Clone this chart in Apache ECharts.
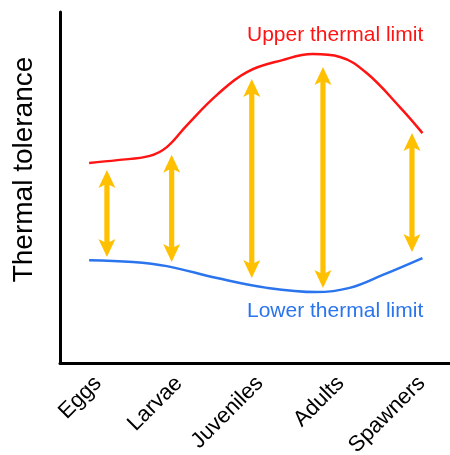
<!DOCTYPE html>
<html><head><meta charset="utf-8">
<script src="https://cdn.jsdelivr.net/npm/echarts@6/dist/echarts.min.js"></script>
<style>html,body{margin:0;padding:0;background:#fff}#c{width:450px;height:455px}</style>
</head><body><div id="c"></div>
<script>
const categories = ['Eggs', 'Larvae', 'Juveniles', 'Adults', 'Spawners'];
const categoryPos = [0, 1, 2, 3, 4];
// upper thermal limit curve [x (stage position), tolerance]
const upperLimit = [[-0.11,57.0],[0.24,57.8],[0.64,59.0],[0.85,61.5],[1.10,67.8],[1.47,76.4],[1.84,82.9],[2.28,86.3],[2.65,88.0],[2.99,87.2],[3.32,82.6],[3.73,72.9],[4.01,65.5]];
// lower thermal limit curve
const lowerLimit = [[-0.11,29.3],[0.43,28.8],[0.85,27.6],[1.47,24.2],[2.09,21.4],[2.70,20.2],[3.11,21.4],[3.52,25.1],[4.01,29.9]];
// tolerance ranges (double arrows): [x, top, bottom]
const arrowX = [0.11, 0.91, 1.90, 2.78, 3.88];
const arrowTop = [55.0, 59.3, 80.9, 84.3, 65.5];
const arrowBottom = [30.2, 28.8, 24.2, 21.4, 31.6];
const arrowData = arrowX.map((x, i) => [x, arrowTop[i], arrowBottom[i]]);

const FONT = 'Liberation Sans, Arial, sans-serif';
const chart = echarts.init(document.getElementById('c'));
chart.setOption({
  animation: false,
  grid: { left: 60, right: 0, top: 12, bottom: 92, containLabel: false, outerBoundsMode: 'none' },
  xAxis: {
    type: 'value', min: -0.47, max: 4.35,
    axisLine: { show: true, onZero: false, lineStyle: { color: '#000', width: 3 } },
    axisTick: { show: false }, splitLine: { show: false },
    axisLabel: {
      customValues: categoryPos, rotate: 45, margin: 17,
      fontSize: 22, color: '#000', fontFamily: FONT,
      formatter: v => categories[Math.round(v)]
    }
  },
  yAxis: {
    type: 'value', min: 0, max: 100,
    name: 'Thermal tolerance', nameLocation: 'middle', nameGap: 22,
    nameTextStyle: { fontSize: 28, color: '#000', fontFamily: FONT, padding: [0, 0, 0, 36] },
    axisLine: { show: true, onZero: false, lineStyle: { color: '#000', width: 3 } },
    axisTick: { show: false }, axisLabel: { show: false }, splitLine: { show: false }
  },
  series: [
    { type: 'line', data: upperLimit, smooth: 0.4, showSymbol: false, lineStyle: { color: '#FF1414', width: 2.5 } },
    { type: 'line', data: lowerLimit, smooth: 0.4, showSymbol: false, lineStyle: { color: '#2A74EE', width: 2.5 } },
    {
      type: 'custom', data: arrowData,
      renderItem: function (params, api) {
        const top = api.coord([api.value(0), api.value(1)]);
        const bot = api.coord([api.value(0), api.value(2)]);
        const x = top[0], t = top[1], b = bot[1];
        const hw = 8.5, hh = 18, sw = 2.6;
        const pts = [
          [x, t], [x + hw, t + hh], [x + sw, t + hh - 3], [x + sw, b - hh + 3], [x + hw, b - hh],
          [x, b], [x - hw, b - hh], [x - sw, b - hh + 3], [x - sw, t + hh - 3], [x - hw, t + hh]
        ];
        return { type: 'polygon', shape: { points: pts }, style: { fill: '#FFC000' } };
      }
    }
  ],
  graphic: [
    { type: 'text', left: 247, top: 25, style: { text: 'Upper thermal limit', fill: '#FF1414', font: '21px ' + FONT } },
    { type: 'text', left: 247, top: 301, style: { text: 'Lower thermal limit', fill: '#2A74EE', font: '21px ' + FONT } }
  ]
});
</script></body></html>
